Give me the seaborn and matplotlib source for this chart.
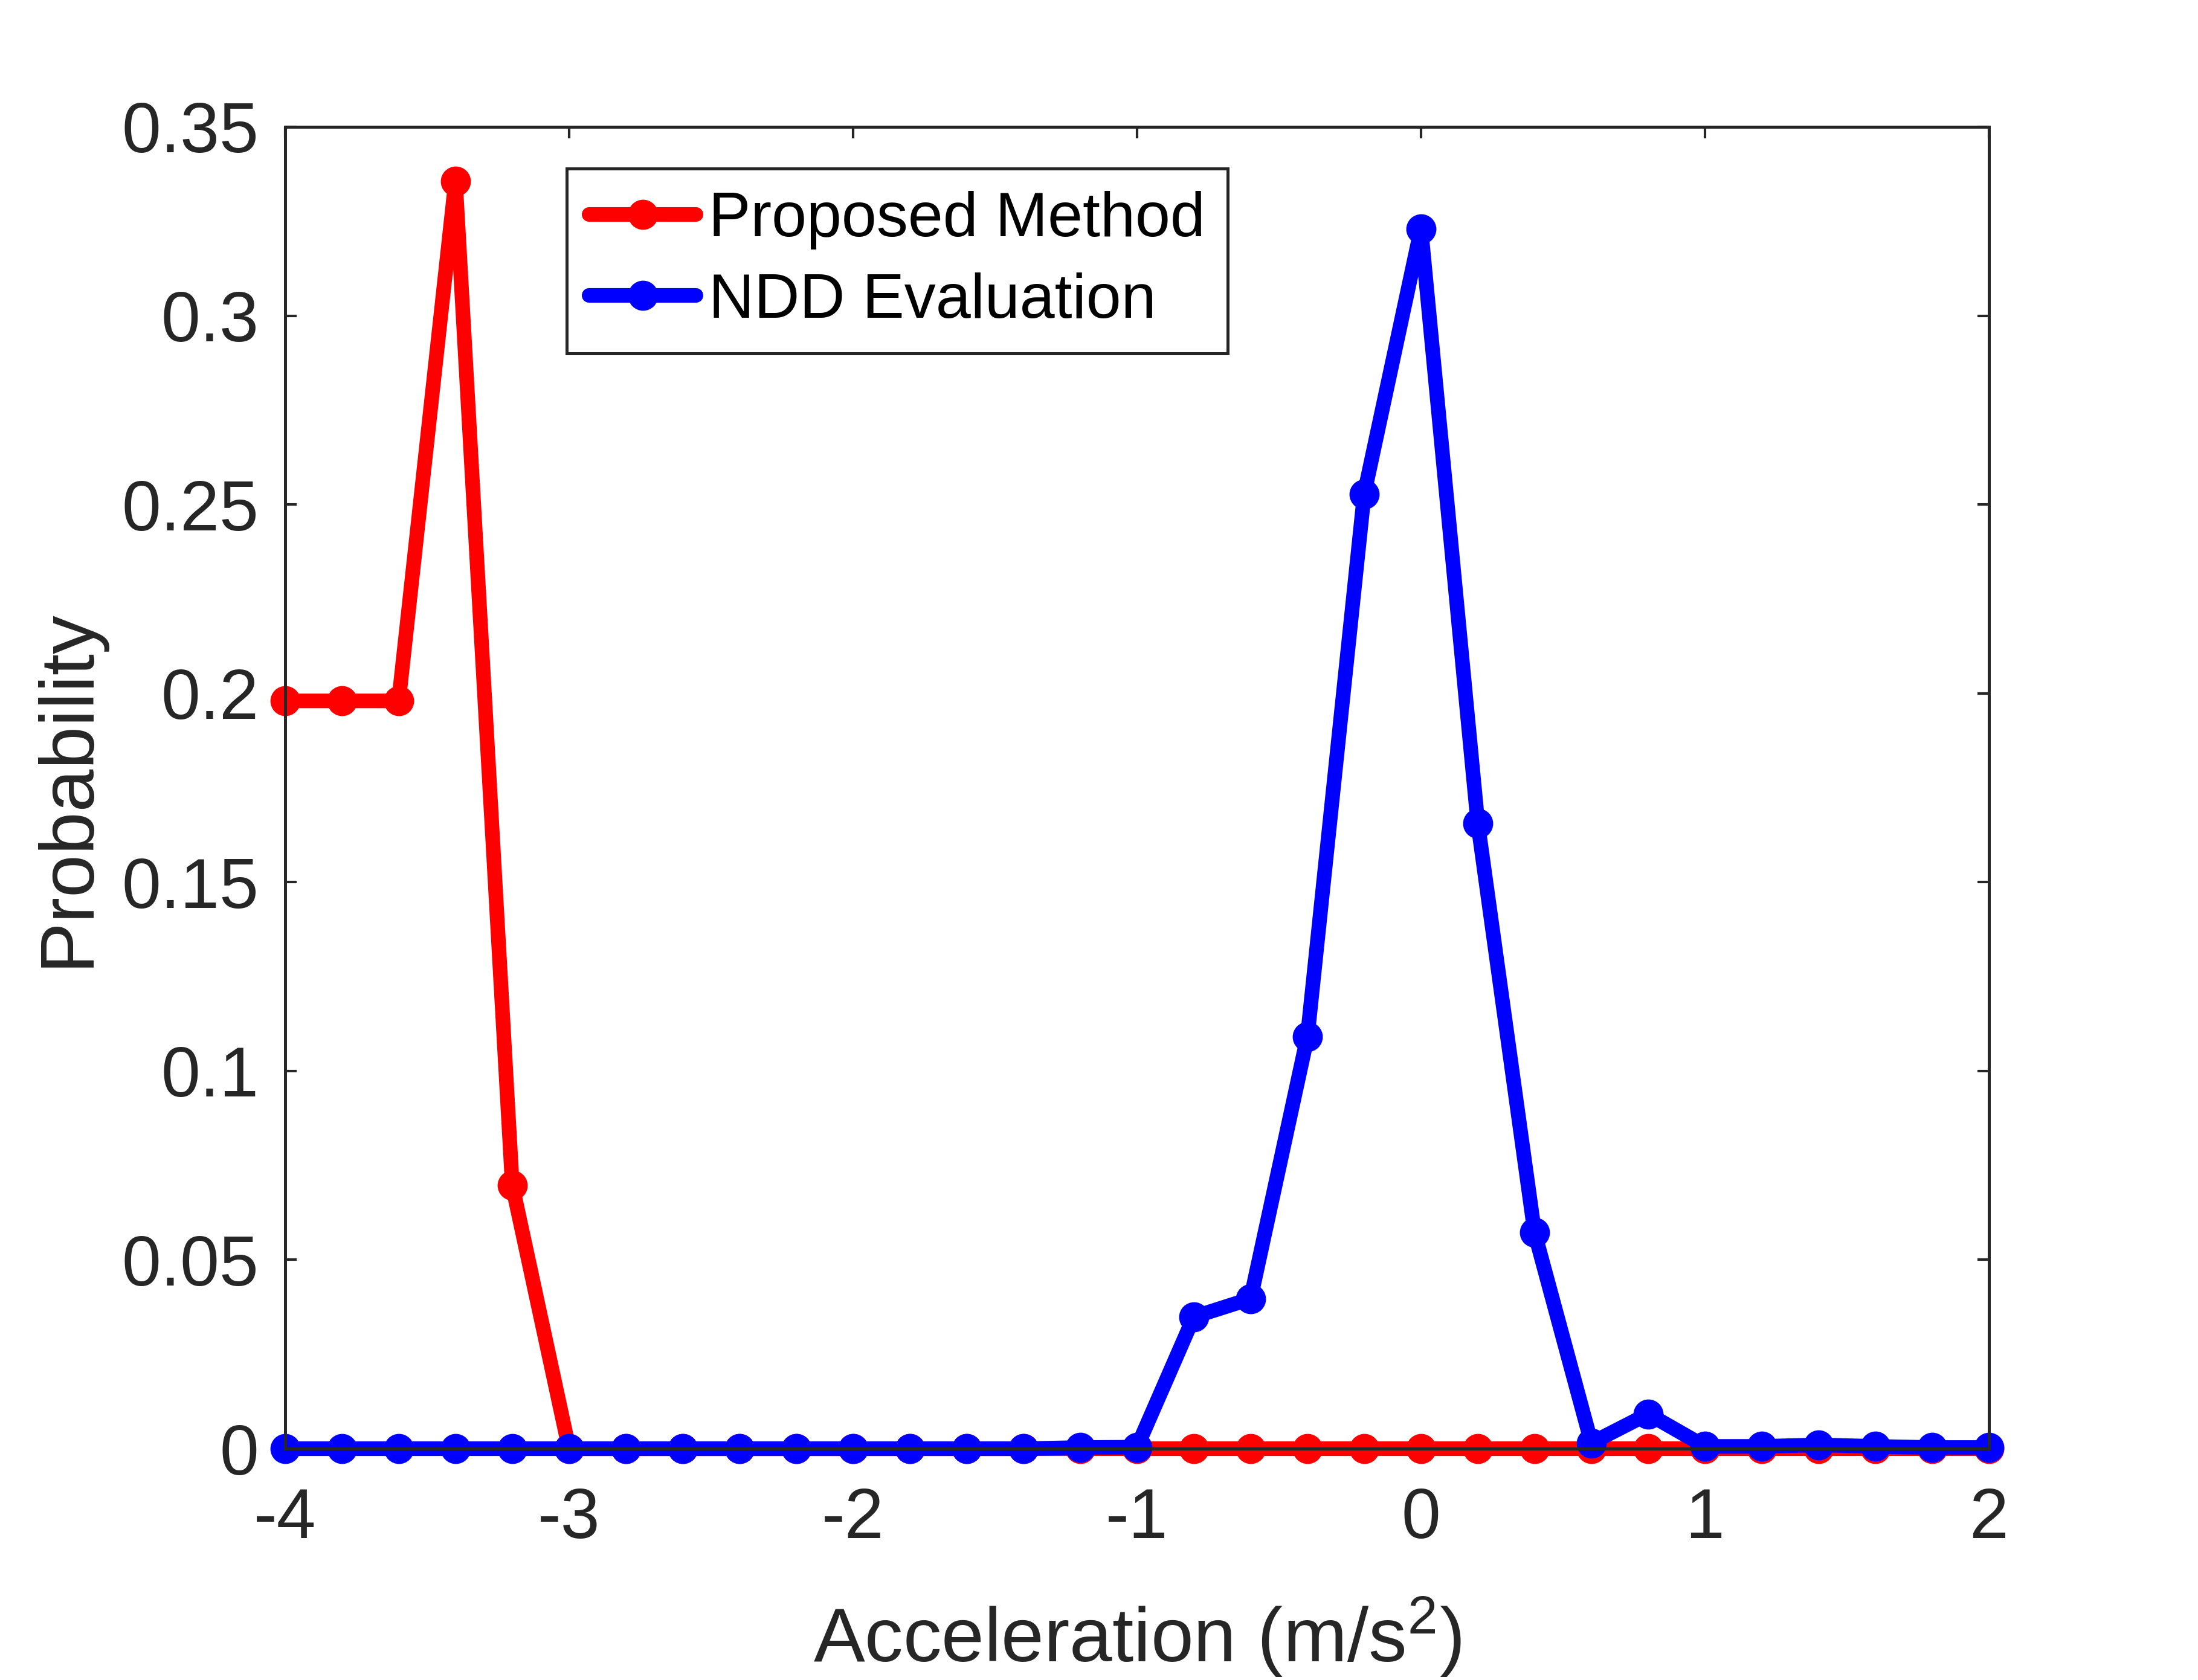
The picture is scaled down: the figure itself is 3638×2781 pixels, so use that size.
import numpy as np
import pandas as pd
import matplotlib
matplotlib.use('Agg')
import matplotlib.pyplot as plt
import seaborn as sns
from matplotlib.ticker import FuncFormatter

# --- DATA ---
accel = [-4.0, -3.8, -3.6, -3.4, -3.2, -3.0, -2.8, -2.6, -2.4, -2.2, -2.0,
         -1.8, -1.6, -1.4, -1.2, -1.0, -0.8, -0.6, -0.4, -0.2, 0.0,
         0.2, 0.4, 0.6, 0.8, 1.0, 1.2, 1.4, 1.6, 1.8, 2.0]
prob_proposed = [0.198, 0.198, 0.198, 0.3356, 0.0698, 0.0, 0.0, 0.0, 0.0, 0.0, 0.0,
                 0.0, 0.0, 0.0, 0.0, 0.0, 0.0, 0.0, 0.0, 0.0, 0.0,
                 0.0, 0.0, 0.0, 0.0, 0.0, 0.0, 0.0, 0.0, 0.0, 0.0]
prob_ndd = [0.0, 0.0, 0.0, 0.0, 0.0, 0.0, 0.0, 0.0, 0.0, 0.0, 0.0,
            0.0, 0.0, 0.0, 0.0003, 0.0004, 0.0349, 0.0397, 0.1091, 0.2528, 0.323,
            0.1656, 0.0572, 0.0015, 0.0092, 0.0006, 0.0006, 0.001, 0.0006, 0.0003, 0.0003]
series_names = ['Proposed Method', 'NDD Evaluation']
series_colors = ['#ff0000', '#0000ff']
x_ticks = [-4, -3, -2, -1, 0, 1, 2]
y_ticks = [0, 0.05, 0.1, 0.15, 0.2, 0.25, 0.3, 0.35]

sns.set_style('ticks')
plt.rcParams['font.family'] = ['Liberation Sans', 'DejaVu Sans']
plt.rcParams['mathtext.fontset'] = 'custom'
plt.rcParams['mathtext.rm'] = 'Liberation Sans'
plt.rcParams['mathtext.it'] = 'Liberation Sans'
plt.rcParams['axes.unicode_minus'] = False

txt = '#262626'
fig = plt.figure(figsize=(3638 / 300, 2781 / 300), dpi=300)
ax = fig.add_axes([0.1297, 0.1377, 0.9049 - 0.1297, 0.9245 - 0.1377])

for name, vals, col in zip(series_names, [prob_proposed, prob_ndd], series_colors):
    df = pd.DataFrame({'x': accel, 'y': vals})
    sns.lineplot(data=df, x='x', y='y', ax=ax, color=col, linewidth=5.8,
                 marker='o', markersize=11.2, markeredgecolor=col,
                 markerfacecolor=col, label=name, clip_on=False)

ax.set_xlim(-4, 2)
ax.set_ylim(0, 0.35)
ax.set_xticks(x_ticks)
ax.set_yticks(y_ticks)
ax.yaxis.set_major_formatter(FuncFormatter(lambda v, p: f'{v:g}'))
ax.xaxis.set_major_formatter(FuncFormatter(lambda v, p: f'{v:g}'))

ax.tick_params(direction='in', length=4.5, width=1.0, colors=txt,
               labelsize=28, top=True, right=True)
ax.tick_params(axis='x', pad=15)
ax.tick_params(axis='y', pad=10.5)
for s in ax.spines.values():
    s.set_visible(True)
    s.set_color(txt)
    s.set_linewidth(1.2)

ax.set_xlabel('Acceleration (m/s$^{2}$)', fontsize=30.5, color=txt, labelpad=17)
ax.set_ylabel('Probability', fontsize=30.5, color=txt, labelpad=7)

leg = ax.legend(loc='upper left', bbox_to_anchor=(0.1652, 0.9685), fontsize=25,
                frameon=True, fancybox=False, edgecolor=txt, framealpha=1,
                handlelength=1.7, handletextpad=0.2, borderpad=0.36,
                labelspacing=0.36, borderaxespad=0)
leg.get_frame().set_linewidth(1.2)
for t in leg.get_texts():
    t.set_color('black')

fig.savefig('out.png', dpi=300, facecolor='white')
